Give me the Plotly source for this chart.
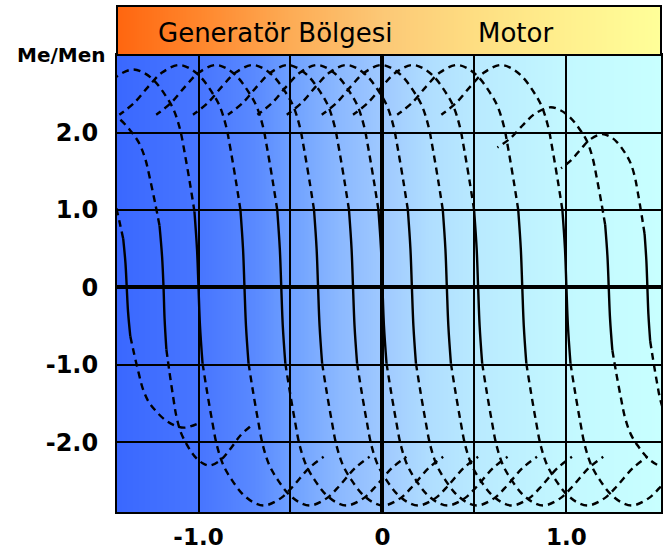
import base64
import struct
import zlib

import plotly.graph_objects as go

# ---------------- data ----------------
# synchronous speed (n/nN) where each torque curve crosses Me = 0
NS = [-1.39, -1.19, -1.00, -0.75, -0.55, -0.35, -0.16, 0.00,
      0.16, 0.35, 0.52, 0.76, 1.00, 1.23, 1.44]
# horizontal / vertical scale of the upper (Me > 0) branch relative to the
# base curve (1 = constant-flux curve, < 1 = field weakening)
KX_UP = [0.88, 1.00, 1, 1, 1, 1, 1, 1, 1, 1, 1, 1, 1, 0.89, 0.69]
KY_UP = [0.63, 0.80, 0.98, 1, 1, 1, 1, 1, 1, 1, 1, 1, 1, 0.81, 0.69]
# same for the lower (Me < 0) branch
KX_LOW = [0.88, 0.70, 1, 1, 1, 1, 1, 1, 1, 1, 1, 1, 1, 0.89, 0.69]
KY_LOW = [0.63, 0.80, 0.98, 0.98, 0.98, 0.98, 0.98, 0.98, 0.98, 0.98, 0.98,
          0.98, 0.98, 0.81, 0.69]
# how far (in base slip units) the tail of each branch is drawn
TAIL_UP = [0.68] * 15
TAIL_LOW = [0.45] + [0.68] * 14

# base torque-speed curve (upper branch), read from the ns = 1.0 / ns = 0 curves:
# slip offset from ns and Me/Men
BASE_D = [0.0, -0.008, -0.022, -0.045, -0.075, -0.100, -0.135, -0.180,
          -0.240, -0.300, -0.360, -0.450, -0.520, -0.600, -0.680]
BASE_M = [0.0, 0.50, 1.00, 1.35, 1.77, 2.08, 2.34, 2.53,
          2.72, 2.83, 2.87, 2.77, 2.60, 2.38, 2.23]
N_SOLID = 3  # first points of the base curve drawn solid (|Me| <= 1)

X_TICKS = [-1.0, -0.5, 0.0, 0.5, 1.0]
X_TICKTEXT = ["-1.0", "", "0", "", "1.0"]
Y_TICKS = [-2.0, -1.0, 0.0, 1.0, 2.0]
Y_TICKTEXT = ["-2.0", "-1.0", "0", "1.0", "2.0"]

HEADER_LEFT = "Generatör Bölgesi"
HEADER_RIGHT = "Motor"
Y_TITLE = "Me/Men"

# background colour stops (fraction across plot, rgb)
BG_STOPS = [(0.0, (58, 104, 255)), (0.153, (72, 118, 255)), (0.254, (90, 138, 255)),
            (0.318, (110, 160, 255)), (0.410, (140, 185, 255)), (0.493, (160, 202, 255)),
            (0.575, (176, 222, 255)), (0.660, (185, 234, 255)), (0.827, (195, 248, 255)),
            (1.0, (200, 255, 255))]
HEAD_STOPS = [(0.0, (255, 102, 16)), (0.153, (255, 135, 45)), (0.318, (253, 172, 85)),
              (0.487, (252, 200, 118)), (0.660, (254, 222, 130)), (0.827, (255, 240, 142)),
              (1.0, (255, 255, 153))]


def gradient_png(stops, n=400):
    cols = []
    for i in range(n):
        f = i / (n - 1)
        for (f0, c0), (f1, c1) in zip(stops[:-1], stops[1:]):
            if f0 <= f <= f1:
                t = 0 if f1 == f0 else (f - f0) / (f1 - f0)
                cols.append(tuple(int(round(a + (b - a) * t)) for a, b in zip(c0, c1)))
                break
    raw = b""
    for _ in range(2):
        raw += b"\x00" + bytes(v for c in cols for v in c)

    def chunk(tag, data):
        return (struct.pack(">I", len(data)) + tag + data
                + struct.pack(">I", zlib.crc32(tag + data) & 0xFFFFFFFF))

    png = (b"\x89PNG\r\n\x1a\n"
           + chunk(b"IHDR", struct.pack(">IIBBBBB", n, 2, 8, 2, 0, 0, 0))
           + chunk(b"IDAT", zlib.compress(raw))
           + chunk(b"IEND", b""))
    return "data:image/png;base64," + base64.b64encode(png).decode()


fig = go.Figure()

LINE_W = 2.4
for i, ns in enumerate(NS):
    up = [(ns + KX_UP[i] * d, KY_UP[i] * m)
          for d, m in zip(BASE_D, BASE_M) if -d <= TAIL_UP[i] + 1e-9]
    low = [(ns - KX_LOW[i] * d, -KY_LOW[i] * m)
           for d, m in zip(BASE_D, BASE_M) if -d <= TAIL_LOW[i] + 1e-9]
    # solid central part
    solid = list(reversed(low[:N_SOLID])) + up[1:N_SOLID]
    fig.add_trace(go.Scatter(x=[p[0] for p in solid], y=[p[1] for p in solid],
                             mode="lines", line=dict(color="black", width=LINE_W, shape="spline"),
                             hoverinfo="skip"))
    for branch in (up, low):
        dash = branch[N_SOLID - 1:]
        fig.add_trace(go.Scatter(x=[p[0] for p in dash], y=[p[1] for p in dash],
                                 mode="lines",
                                 line=dict(color="black", width=LINE_W, dash="7px,5px",
                                           shape="spline"),
                                 hoverinfo="skip"))

PLOT_H = 554 - 55 - 42
HEAD_H = 49 / PLOT_H
ytickfont = dict(family="DejaVu Sans", size=24, color="black", weight="bold")
xtickfont = dict(family="DejaVu Sans", size=23, color="black", weight="bold")

fig.update_layout(
    width=667, height=554,
    margin=dict(l=117, r=6, t=55, b=42, autoexpand=False),
    paper_bgcolor="white", plot_bgcolor="rgba(0,0,0,0)",
    showlegend=False,
    xaxis=dict(range=[-1.443, 1.514], tickmode="array", tickvals=X_TICKS, ticktext=X_TICKTEXT,
               showgrid=True, gridcolor="black", gridwidth=2,
               zeroline=True, zerolinecolor="black", zerolinewidth=4,
               showline=True, mirror=True, linecolor="black", linewidth=2,
               ticks="", ticklabelstandoff=3, tickfont=xtickfont, fixedrange=True,
               automargin=False),
    yaxis=dict(range=[-2.897, 3.0], tickmode="array", tickvals=Y_TICKS, ticktext=Y_TICKTEXT,
               showgrid=True, gridcolor="black", gridwidth=2,
               zeroline=True, zerolinecolor="black", zerolinewidth=4,
               showline=True, mirror=True, linecolor="black", linewidth=2,
               ticks="", ticklabelstandoff=12, tickfont=ytickfont, fixedrange=True,
               automargin=False),
    images=[
        dict(source=gradient_png(BG_STOPS), xref="paper", yref="paper", x=0, y=1,
             sizex=1, sizey=1, xanchor="left", yanchor="top", sizing="stretch", layer="below"),
        dict(source=gradient_png(HEAD_STOPS), xref="paper", yref="paper", x=0, y=1 + HEAD_H,
             sizex=1, sizey=HEAD_H, xanchor="left", yanchor="top", sizing="stretch",
             layer="above"),
    ],
    shapes=[dict(type="rect", xref="paper", yref="paper", x0=0, x1=1, y0=1, y1=1 + HEAD_H,
                 line=dict(color="black", width=2), fillcolor="rgba(0,0,0,0)", layer="above")],
    annotations=[
        dict(text=HEADER_LEFT, xref="paper", yref="paper", x=0.292, y=1 + 22 / PLOT_H,
             xanchor="center", yanchor="middle", showarrow=False,
             font=dict(family="DejaVu Sans", size=26, color="black")),
        dict(text=HEADER_RIGHT, xref="paper", yref="paper", x=0.733, y=1 + 22 / PLOT_H,
             xanchor="center", yanchor="middle", showarrow=False,
             font=dict(family="DejaVu Sans", size=26, color="black")),
        dict(text=Y_TITLE, xref="paper", yref="paper", x=-0.103, y=1.0,
             xanchor="center", yanchor="middle", showarrow=False,
             font=dict(family="DejaVu Sans", size=20, color="black", weight="bold")),
    ],
)

fig.write_html("out.html")
